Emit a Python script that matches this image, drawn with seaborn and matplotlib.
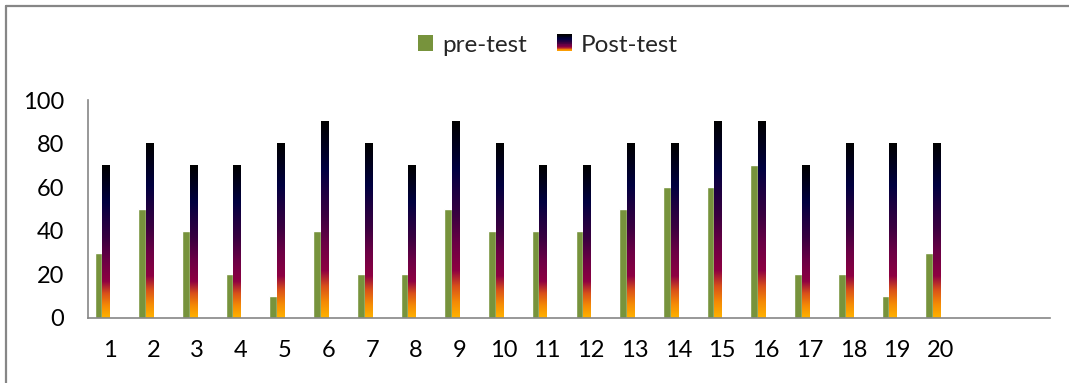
import numpy as np
import pandas as pd
import matplotlib
matplotlib.use("Agg")
import matplotlib.pyplot as plt
import seaborn as sns
from matplotlib.colors import LinearSegmentedColormap
from matplotlib.patches import Rectangle, Patch
from matplotlib.lines import Line2D
from matplotlib.legend_handler import HandlerBase

# Scores per student
students = [str(i) for i in range(1, 21)]
pre_test = [30, 50, 40, 20, 10, 40, 20, 20, 50, 40, 40, 40, 50, 60, 60, 70, 20, 20, 10, 30]
post_test = [70, 80, 70, 70, 80, 90, 80, 70, 90, 80, 70, 70, 80, 80, 90, 90, 70, 80, 80, 80]
series_names = ["pre-test", "Post-test"]
y_ticks = [0, 20, 40, 60, 80, 100]

GREEN = "#77933C"
AXIS_GRAY = "#868686"

# Post-test fill: amber at the base through magenta and navy to black at the top
fire = LinearSegmentedColormap.from_list(
    "fire",
    [(0.00, "#FFB300"), (0.08, "#F58A05"), (0.16, "#D9501A"),
     (0.24, "#8E0042"), (0.38, "#6A0045"), (0.52, "#3A0040"),
     (0.64, "#1E0040"), (0.76, "#000040"), (0.88, "#00001E"),
     (1.00, "#000000")])

df = pd.DataFrame({
    "student": students * 2,
    "score": pre_test + post_test,
    "test": [series_names[0]] * len(students) + [series_names[1]] * len(students),
})

sns.set_theme(style="white")
plt.rcParams["font.family"] = ["Lato", "DejaVu Sans"]

fig = plt.figure(figsize=(10.69, 3.83), dpi=100)
ax = fig.add_axes([88 / 1069, 1 - 318 / 383, (1050 - 88) / 1069, 218 / 383])

# Two empty hue slots keep the bars narrow and shifted left of each tick
hue_order = series_names + ["_s3", "_s4"]
sns.barplot(data=df, x="student", y="score", hue="test", hue_order=hue_order,
            order=students, width=0.7, palette=[GREEN, "#000040", "w", "w"],
            saturation=1, errorbar=None, legend=False, ax=ax)

grad = np.linspace(0, 1, 256).reshape(-1, 1)
for bar in ax.containers[1]:
    x0, w, h = bar.get_x(), bar.get_width(), bar.get_height()
    bar.set_facecolor("none")
    bar.set_edgecolor("none")
    ax.imshow(grad, extent=[x0, x0 + w, 0, h], origin="lower", aspect="auto",
              cmap=fire, zorder=bar.get_zorder(), interpolation="bilinear")

ax.set_xlim(-0.5, 21.5)
ax.set_ylim(0, 100)
ax.set_yticks(y_ticks)
ax.set_xlabel("")
ax.set_ylabel("")
ax.tick_params(axis="x", length=0, pad=16, labelsize=17, colors="black")
ax.tick_params(axis="y", length=0, pad=17, labelsize=17, colors="black")
for side in ("top", "right"):
    ax.spines[side].set_visible(False)
for side in ("left", "bottom"):
    ax.spines[side].set_color(AXIS_GRAY)
    ax.spines[side].set_linewidth(1.2)
ax.grid(False)


class HandlerGradient(HandlerBase):
    def create_artists(self, legend, orig_handle, xdescent, ydescent,
                       width, height, fontsize, trans):
        n = 24
        arts = []
        for i in range(n):
            r = Rectangle((-xdescent, -ydescent + height * i / n), width, height / n + 0.3,
                          facecolor=fire(i / (n - 1)), edgecolor="none", transform=trans)
            arts.append(r)
        return arts


h_pre = Patch(facecolor=GREEN, edgecolor="none")
h_post = Patch(facecolor="#000040", edgecolor="none")
fig.legend([h_pre, h_post], series_names, loc="center",
           bbox_to_anchor=(548 / 1069, 1 - 45 / 383), ncol=2, frameon=False,
           fontsize=17.5, handlelength=0.62, handleheight=0.68, handletextpad=0.35,
           columnspacing=1.25, handler_map={h_post: HandlerGradient()})

# Chart area border (top and left edges)
fig.add_artist(Line2D([6 / 1069, 1.0], [1 - 6 / 383, 1 - 6 / 383],
                      transform=fig.transFigure, color=AXIS_GRAY, lw=1.6))
fig.add_artist(Line2D([6 / 1069, 6 / 1069], [0.0, 1 - 6 / 383],
                      transform=fig.transFigure, color=AXIS_GRAY, lw=1.6))

fig.savefig("out.png", dpi=100)
